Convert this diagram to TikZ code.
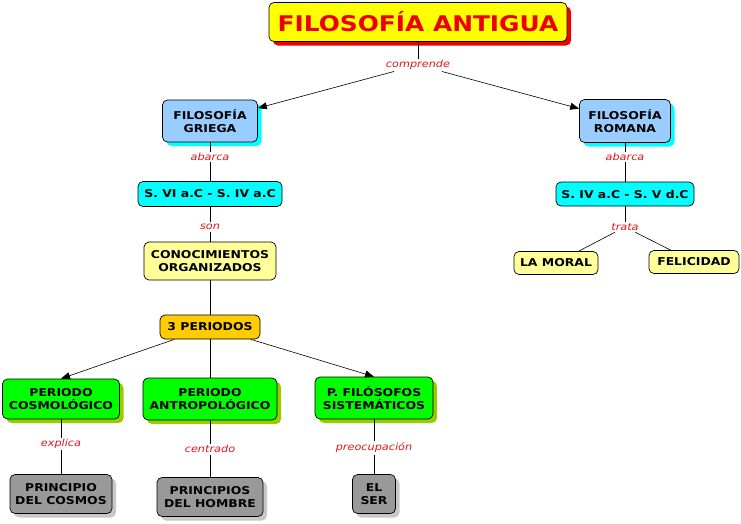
\documentclass[tikz,border=0pt]{standalone}
\usepackage{fontspec}
\setmainfont{DejaVu Sans}[FakeStretch=1.15]
\usepackage{xcolor}
\usetikzlibrary{positioning,shadows,arrows.meta}

\definecolor{titleyellow}{RGB}{255,255,0}
\definecolor{titlered}{RGB}{238,0,0}
\definecolor{linkred}{RGB}{225,20,25}
\definecolor{skyblue}{RGB}{153,204,255}
\definecolor{aqua}{RGB}{0,255,255}
\definecolor{lightyellow}{RGB}{255,255,153}
\definecolor{gold}{RGB}{255,204,0}
\definecolor{leafgreen}{RGB}{0,255,0}
\definecolor{olive}{RGB}{153,204,0}
\definecolor{midgray}{RGB}{153,153,153}
\definecolor{palegray}{RGB}{200,200,200}

\begin{document}
\begin{tikzpicture}[x=1pt,y=-1pt,font=\bfseries\fontsize{10.8}{13.5}\selectfont,
		concept/.style={draw, rounded corners=5pt, align=center, inner sep=1pt, line width=0.7pt},
		shade/.style={drop shadow={fill=#1, opacity=1, shadow xshift=4pt, shadow yshift=-4pt}},
		link/.style={font=\itshape\fontsize{9.8}{11}\selectfont, text=linkred, inner sep=1.5pt},
		arrow/.style={-{Triangle[length=9pt,width=7pt]}, line width=0.6pt},
		line/.style={line width=0.6pt}]

		\useasboundingbox (0,0) rectangle (741,523);

		% titulo
		\node[concept, fill=titleyellow, shade=titlered, text=titlered, minimum width=298, minimum height=39,
		      font=\bfseries\fontsize{21.6}{24}\selectfont] (antigua) at (418,22) {FILOSOFÍA ANTIGUA};
		\node[link] (comprende) at (418,65) {comprende};

		% griega y romana
		\node[concept, fill=skyblue, shade=aqua, minimum width=95, minimum height=42] (griega) at (210,121) {FILOSOFÍA\\GRIEGA};
		\node[concept, fill=skyblue, shade=aqua, minimum width=91, minimum height=43] (romana) at (625,121) {FILOSOFÍA\\ROMANA};
		\node[link] (abarcaG) at (210,157) {abarca};
		\node[link] (abarcaR) at (625,157) {abarca};
		\node[concept, fill=aqua, minimum width=144, minimum height=25] (griegaT) at (210,194) {S. VI a.C - S. IV a.C};
		\node[concept, fill=aqua, minimum width=138, minimum height=24] (romanaT) at (625,194) {S. IV a.C - S. V d.C};
		\node[link] (son) at (210,227) {son};
		\node[link] (trata) at (625,227) {trata};
		\node[concept, fill=lightyellow, minimum width=132, minimum height=38] (conoc) at (210,261) {CONOCIMIENTOS\\ORGANIZADOS};
		\node[concept, fill=lightyellow, minimum width=84, minimum height=23] (moral) at (556,263) {LA MORAL};
		\node[concept, fill=lightyellow, minimum width=90, minimum height=23] (felic) at (694,262) {FELICIDAD};

		% periodos
		\node[concept, fill=gold, minimum width=100, minimum height=24] (periodos) at (210,327) {3 PERIODOS};
		\node[concept, fill=leafgreen, shade=olive, minimum width=117, minimum height=40] (cosmo) at (61,399) {PERIODO\\COSMOLÓGICO};
		\node[concept, fill=leafgreen, shade=olive, minimum width=134, minimum height=42] (antropo) at (210,399) {PERIODO\\ANTROPOLÓGICO};
		\node[concept, fill=leafgreen, shade=olive, minimum width=118, minimum height=42] (sistema) at (374,398) {P. FILÓSOFOS\\SISTEMÁTICOS};
		\node[link] (explica) at (61,444) {explica};
		\node[link] (centrado) at (210,449) {centrado};
		\node[link] (preocupa) at (374,448) {preocupación};
		\node[concept, fill=midgray, shade=palegray, minimum width=102, minimum height=39] (pcosmos) at (61,494) {PRINCIPIO\\DEL COSMOS};
		\node[concept, fill=midgray, shade=palegray, minimum width=106, minimum height=39] (phombre) at (210,497) {PRINCIPIOS\\DEL HOMBRE};
		\node[concept, fill=midgray, shade=palegray, minimum width=43, minimum height=39] (ser) at (374,494) {EL\\SER};

		\foreach \a/\b in {antigua/comprende, griega/abarcaG, abarcaG/griegaT, griegaT/son, son/conoc,
		                   romana/abarcaR, abarcaR/romanaT, romanaT/trata, trata/moral, trata/felic,
		                   conoc/periodos, periodos/antropo, cosmo/explica, explica/pcosmos,
		                   antropo/centrado, centrado/phombre, sistema/preocupa, preocupa/ser}{
			\draw[line] (\a) -- (\b);
		}
		\draw[arrow] (comprende) -- (griega);
		\draw[arrow] (comprende) -- (romana);
		\draw[arrow] (periodos) -- (cosmo.north);
		\draw[arrow] (periodos) -- (sistema.north);
	\end{tikzpicture}
\end{document}
